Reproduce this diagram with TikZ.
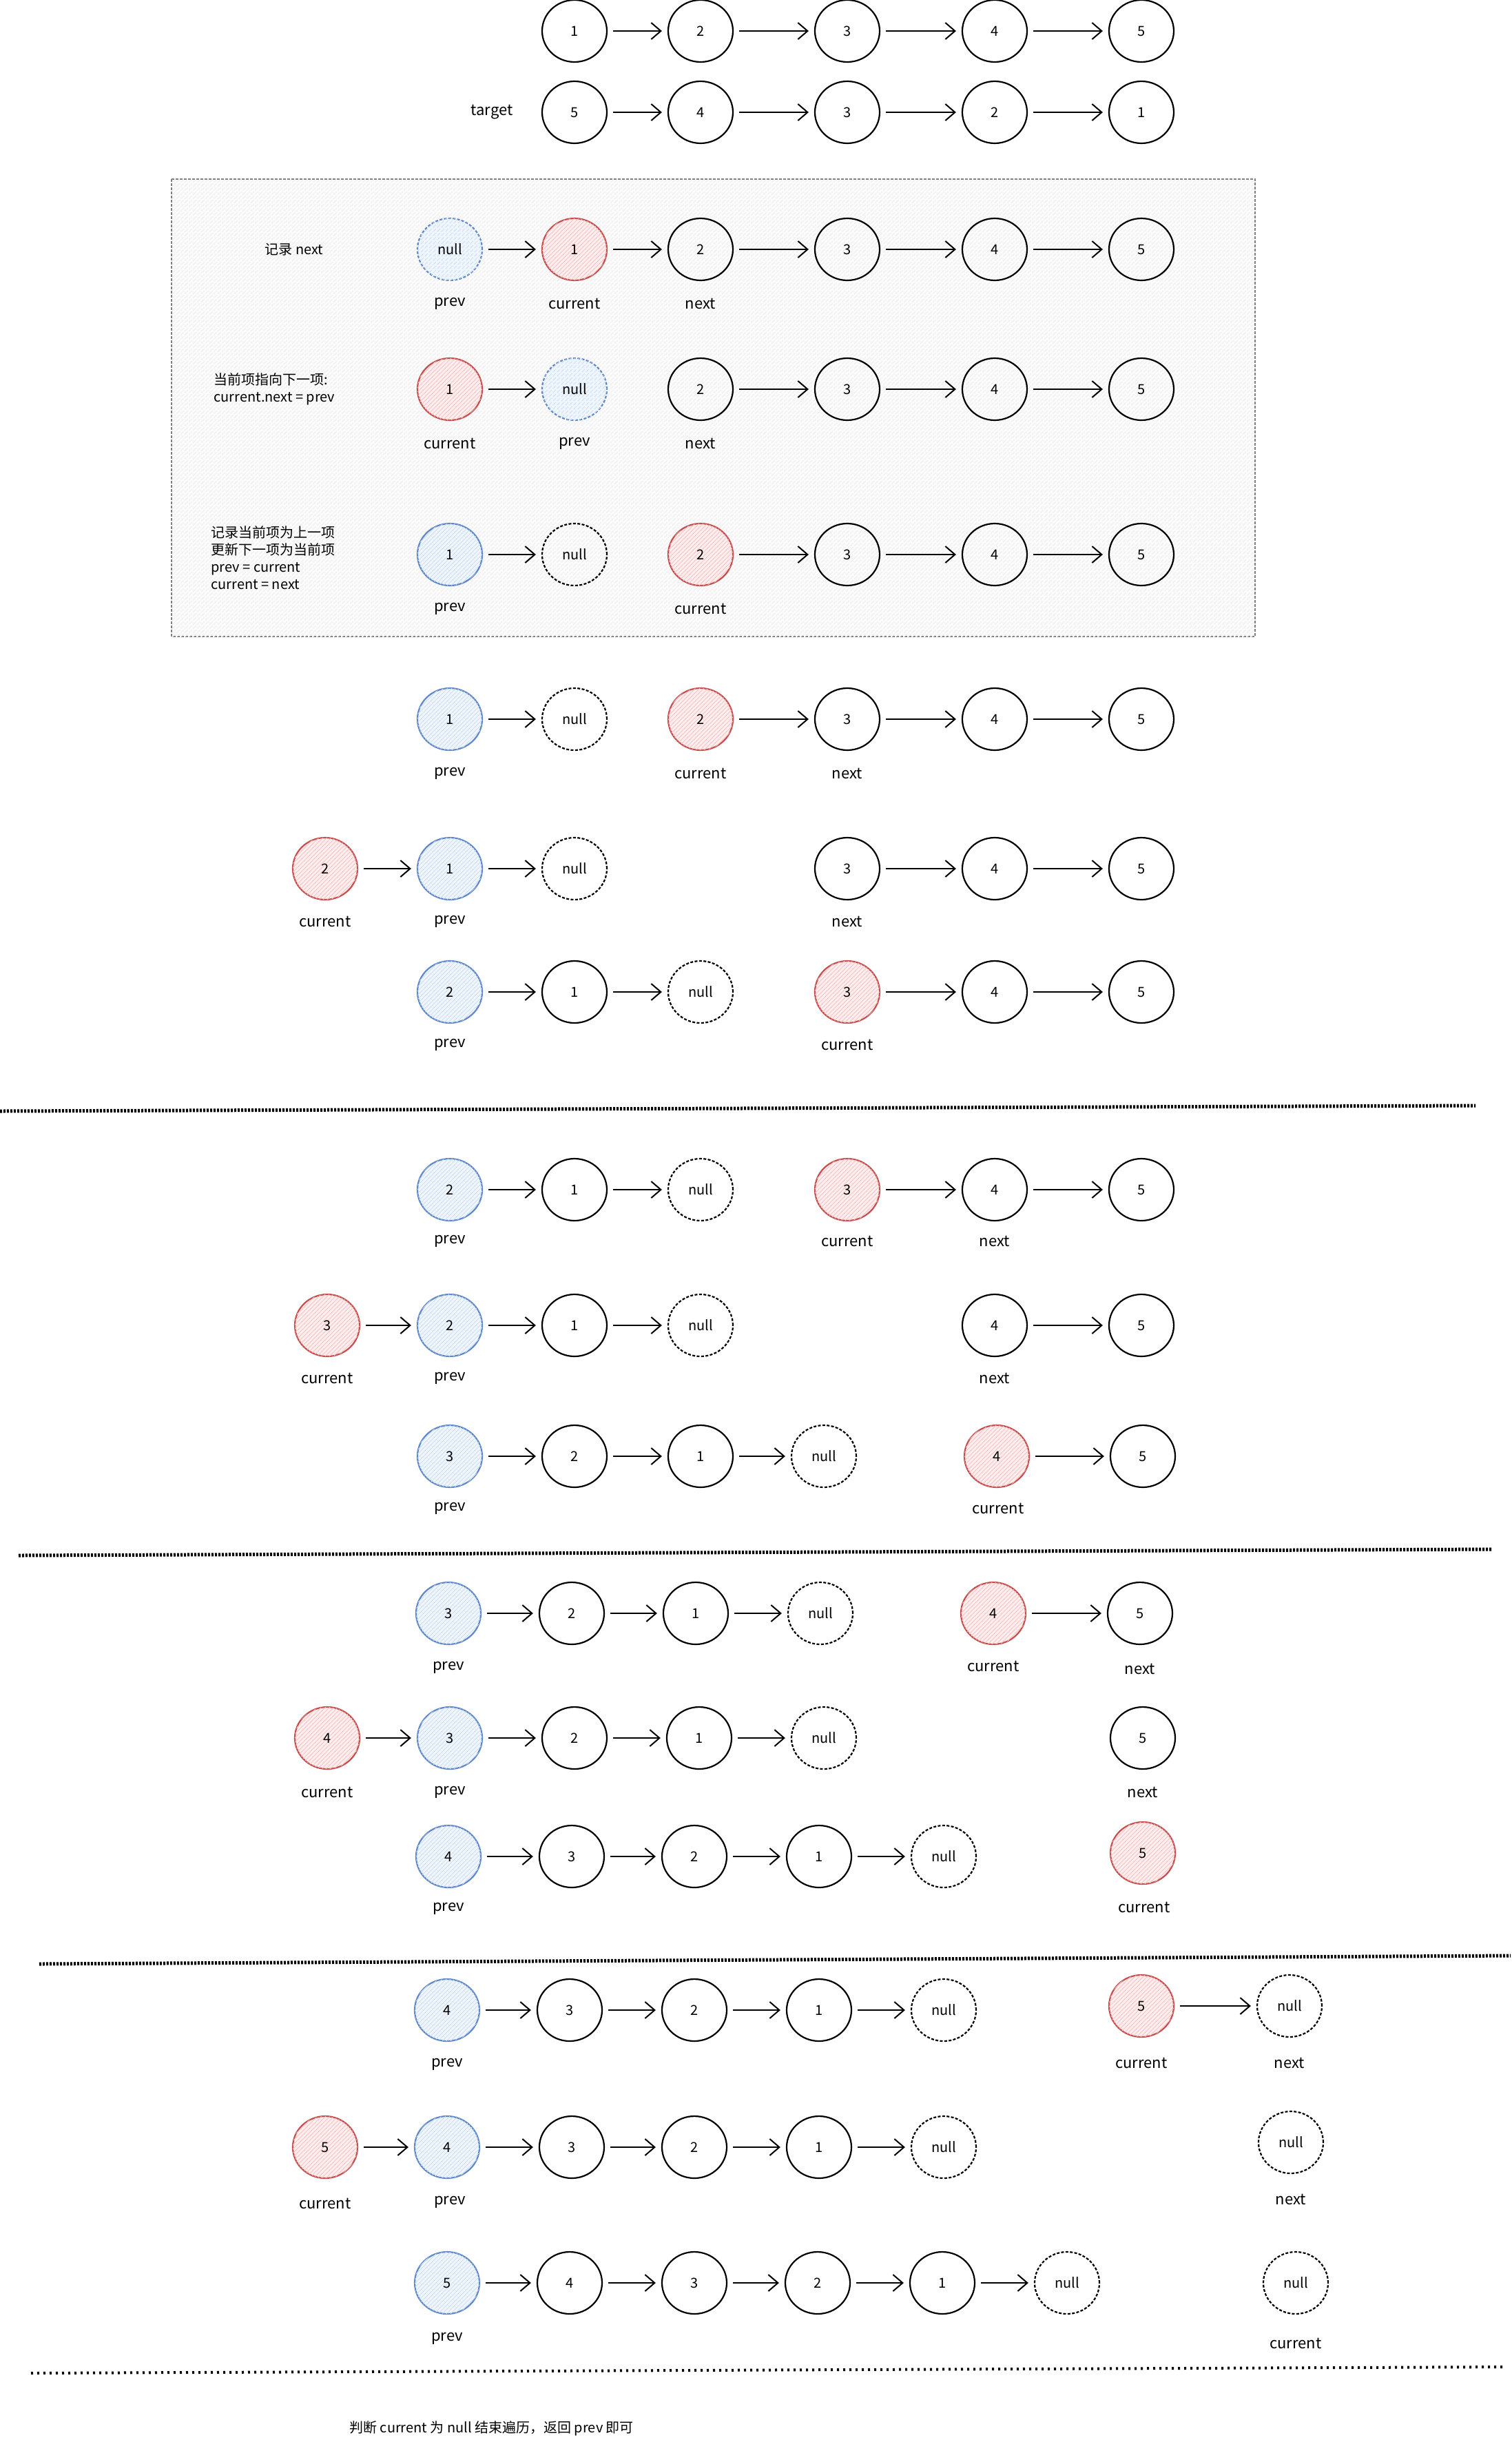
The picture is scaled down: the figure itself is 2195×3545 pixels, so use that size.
\documentclass[tikz,border=0pt]{standalone}
\usepackage{fontspec}
\usetikzlibrary{shapes.geometric,arrows.meta,patterns}
\newfontfamily\cjk{Noto Sans CJK SC}
\definecolor{redS}{RGB}{201,78,78}
\definecolor{redF}{RGB}{254,238,238}
\definecolor{redH}{RGB}{246,196,196}
\definecolor{blueS}{RGB}{96,136,204}
\definecolor{blueF}{RGB}{240,246,254}
\definecolor{blueH}{RGB}{206,222,246}
\definecolor{boxF}{RGB}{251,251,251}
\definecolor{boxH}{RGB}{238,238,238}
\tikzset{
  nd/.style={ellipse, draw=black, line width=1.1pt, minimum width=47pt, minimum height=45pt, inner sep=0pt, font=\cjk\fontsize{10}{12}\selectfont},
  rd/.style={nd, draw=redS, fill=redF, postaction={pattern=north east lines, pattern color=redH}},
  bl/.style={nd, draw=blueS, fill=blueF, postaction={pattern=north east lines, pattern color=blueH}},
  bld/.style={bl, dash pattern=on 2pt off 1.2pt},
  nl/.style={nd, dash pattern=on 2pt off 1.2pt},
  lb/.style={font=\cjk\fontsize{11}{13}\selectfont, inner sep=0pt},
  note/.style={font=\cjk\fontsize{10}{12.5}\selectfont, inner sep=0pt, align=left, anchor=west},
  arr/.style={-{Straight Barb[length=7pt,width=12pt]}, line width=1pt, shorten <=4pt, shorten >=4pt},
  sepline/.style={line width=2.5pt, dash pattern=on 1.5pt off 1pt},
  dotline/.style={line width=2pt, dash pattern=on 1.5pt off 3pt},
  boxframe/.style={draw=gray, line width=0.6pt, dash pattern=on 2pt off 1pt, fill=boxF, postaction={pattern=north east lines, pattern color=boxH}}
}
\begin{document}
\begin{tikzpicture}[x=0.5pt,y=-0.5pt]
\useasboundingbox (0,0) rectangle (2195,3545);

% ---------- Row 1 ----------
\node[nd] (p1) at (834,45) {1};
\node[nd] (p2) at (1017,45) {2};
\node[nd] (p3) at (1230,45) {3};
\node[nd] (p4) at (1444,45) {4};
\node[nd] (p5) at (1657,45) {5};
\draw[arr] (p1)--(p2); \draw[arr] (p2)--(p3); \draw[arr] (p3)--(p4); \draw[arr] (p4)--(p5);

% ---------- Row 2 (target) ----------
\node[lb] (tg) at (714,163) {target};
\node[nd] (q1) at (834,163) {5};
\node[nd] (q2) at (1017,163) {4};
\node[nd] (q3) at (1230,163) {3};
\node[nd] (q4) at (1444,163) {2};
\node[nd] (q5) at (1657,163) {1};
\draw[arr] (q1)--(q2); \draw[arr] (q2)--(q3); \draw[arr] (q3)--(q4); \draw[arr] (q4)--(q5);

% ---------- Box ----------
\path[boxframe] (249,260) rectangle (1822,924);

% Row A
\node[note, anchor=center] (ta) at (427,362) {记录 next};
\node[bld] (a0) at (653,362) {null};
\node[rd] (a1) at (834,362) {1};
\node[nd] (a2) at (1017,362) {2};
\node[nd] (a3) at (1230,362) {3};
\node[nd] (a4) at (1444,362) {4};
\node[nd] (a5) at (1657,362) {5};
\draw[arr] (a0)--(a1); \draw[arr] (a1)--(a2); \draw[arr] (a2)--(a3); \draw[arr] (a3)--(a4); \draw[arr] (a4)--(a5);
\node[lb] (la0) at (653,441) {prev};
\node[lb] (la1) at (834,441) {current};
\node[lb] (la2) at (1017,441) {next};

% Row B
\node[note] (tb) at (310,565) {当前项指向下一项:\\current.next = prev};
\node[rd] (b0) at (653,565) {1};
\node[bld] (b1) at (834,565) {null};
\node[nd] (b2) at (1017,565) {2};
\node[nd] (b3) at (1230,565) {3};
\node[nd] (b4) at (1444,565) {4};
\node[nd] (b5) at (1657,565) {5};
\draw[arr] (b0)--(b1); \draw[arr] (b2)--(b3); \draw[arr] (b3)--(b4); \draw[arr] (b4)--(b5);
\node[lb] (lb0) at (653,644) {current};
\node[lb] (lb1) at (834,644) {prev};
\node[lb] (lb2) at (1017,644) {next};

% Row C
\node[note] (tc) at (306,810) {记录当前项为上一项\\更新下一项为当前项\\prev = current\\current = next};
\node[bl] (c0) at (653,805) {1};
\node[nl] (c1) at (834,805) {null};
\node[rd] (c2) at (1017,805) {2};
\node[nd] (c3) at (1230,805) {3};
\node[nd] (c4) at (1444,805) {4};
\node[nd] (c5) at (1657,805) {5};
\draw[arr] (c0)--(c1); \draw[arr] (c2)--(c3); \draw[arr] (c3)--(c4); \draw[arr] (c4)--(c5);
\node[lb] (lc0) at (653,884) {prev};
\node[lb] (lc2) at (1017,884) {current};

% ---------- Row D ----------
\node[bl] (d0) at (653,1044) {1};
\node[nl] (d1) at (834,1044) {null};
\node[rd] (d2) at (1017,1044) {2};
\node[nd] (d3) at (1230,1044) {3};
\node[nd] (d4) at (1444,1044) {4};
\node[nd] (d5) at (1657,1044) {5};
\draw[arr] (d0)--(d1); \draw[arr] (d2)--(d3); \draw[arr] (d3)--(d4); \draw[arr] (d4)--(d5);
\node[lb] (ld0) at (653,1123) {prev};
\node[lb] (ld2) at (1017,1123) {current};
\node[lb] (ld3) at (1230,1123) {next};

% ---------- Row E ----------
\node[rd] (e0) at (472,1261) {2};
\node[bl] (e1) at (653,1261) {1};
\node[nl] (e2) at (834,1261) {null};
\node[nd] (e3) at (1230,1261) {3};
\node[nd] (e4) at (1444,1261) {4};
\node[nd] (e5) at (1657,1261) {5};
\draw[arr] (e0)--(e1); \draw[arr] (e1)--(e2); \draw[arr] (e3)--(e4); \draw[arr] (e4)--(e5);
\node[lb] (le0) at (472,1338) {current};
\node[lb] (le1) at (653,1338) {prev};
\node[lb] (le3) at (1230,1338) {next};

% ---------- Row F ----------
\node[bl] (f1) at (653,1440) {2};
\node[nd] (f2) at (834,1440) {1};
\node[nl] (f3) at (1017,1440) {null};
\node[rd] (f4) at (1230,1440) {3};
\node[nd] (f5) at (1444,1440) {4};
\node[nd] (f6) at (1657,1440) {5};
\draw[arr] (f1)--(f2); \draw[arr] (f2)--(f3); \draw[arr] (f4)--(f5); \draw[arr] (f5)--(f6);
\node[lb] (lf1) at (653,1517) {prev};
\node[lb] (lf4) at (1230,1517) {current};

% separator 1
\draw[sepline] (0,1613) -- (2142,1605);

% ---------- Row G ----------
\node[bl] (g1) at (653,1727) {2};
\node[nd] (g2) at (834,1727) {1};
\node[nl] (g3) at (1017,1727) {null};
\node[rd] (g4) at (1230,1727) {3};
\node[nd] (g5) at (1444,1727) {4};
\node[nd] (g6) at (1657,1727) {5};
\draw[arr] (g1)--(g2); \draw[arr] (g2)--(g3); \draw[arr] (g4)--(g5); \draw[arr] (g5)--(g6);
\node[lb] (lg1) at (653,1802) {prev};
\node[lb] (lg4) at (1230,1802) {current};
\node[lb] (lg5) at (1444,1802) {next};

% ---------- Row H ----------
\node[rd] (h0) at (475,1924) {3};
\node[bl] (h1) at (653,1924) {2};
\node[nd] (h2) at (834,1924) {1};
\node[nl] (h3) at (1017,1924) {null};
\node[nd] (h5) at (1444,1924) {4};
\node[nd] (h6) at (1657,1924) {5};
\draw[arr] (h0)--(h1); \draw[arr] (h1)--(h2); \draw[arr] (h2)--(h3); \draw[arr] (h5)--(h6);
\node[lb] (lh0) at (475,2001) {current};
\node[lb] (lh1) at (653,2001) {prev};
\node[lb] (lh5) at (1444,2001) {next};

% ---------- Row I ----------
\node[bl] (i1) at (653,2114) {3};
\node[nd] (i2) at (834,2114) {2};
\node[nd] (i3) at (1017,2114) {1};
\node[nl] (i4) at (1196,2114) {null};
\node[rd] (i5) at (1447,2114) {4};
\node[nd] (i6) at (1659,2114) {5};
\draw[arr] (i1)--(i2); \draw[arr] (i2)--(i3); \draw[arr] (i3)--(i4); \draw[arr] (i5)--(i6);
\node[lb] (li1) at (653,2190) {prev};
\node[lb] (li5) at (1449,2190) {current};

% separator 2
\draw[sepline] (27,2258) -- (2166,2249);

% ---------- Row J ----------
\node[bl] (j1) at (651,2342) {3};
\node[nd] (j2) at (830,2342) {2};
\node[nd] (j3) at (1010,2342) {1};
\node[nl] (j4) at (1191,2342) {null};
\node[rd] (j5) at (1442,2342) {4};
\node[nd] (j6) at (1655,2342) {5};
\draw[arr] (j1)--(j2); \draw[arr] (j2)--(j3); \draw[arr] (j3)--(j4); \draw[arr] (j5)--(j6);
\node[lb] (lj1) at (651,2421) {prev};
\node[lb] (lj5) at (1442,2419) {current};
\node[lb] (lj6) at (1655,2423) {next};

% ---------- Row K ----------
\node[rd] (k0) at (475,2523) {4};
\node[bl] (k1) at (653,2523) {3};
\node[nd] (k2) at (834,2523) {2};
\node[nd] (k3) at (1015,2523) {1};
\node[nl] (k4) at (1196,2523) {null};
\node[nd] (k6) at (1659,2523) {5};
\draw[arr] (k0)--(k1); \draw[arr] (k1)--(k2); \draw[arr] (k2)--(k3); \draw[arr] (k3)--(k4);
\node[lb] (lk0) at (475,2602) {current};
\node[lb] (lk1) at (653,2602) {prev};
\node[lb] (lk6) at (1659,2602) {next};

% ---------- Row L ----------
\node[bl] (l1) at (651,2695) {4};
\node[nd] (l2) at (830,2695) {3};
\node[nd] (l3) at (1008,2695) {2};
\node[nd] (l4) at (1189,2695) {1};
\node[nl] (l5) at (1370,2695) {null};
\node[rd] (l6) at (1659,2690) {5};
\draw[arr] (l1)--(l2); \draw[arr] (l2)--(l3); \draw[arr] (l3)--(l4); \draw[arr] (l4)--(l5);
\node[lb] (ll1) at (651,2771) {prev};
\node[lb] (ll6) at (1661,2769) {current};

% separator 3
\draw[sepline] (57,2851) -- (2193,2839);

% ---------- Row M ----------
\node[bl] (m1) at (649,2918) {4};
\node[nd] (m2) at (827,2918) {3};
\node[nd] (m3) at (1008,2918) {2};
\node[nd] (m4) at (1189,2918) {1};
\node[nl] (m5) at (1370,2918) {null};
\node[rd] (m6) at (1657,2912) {5};
\node[nl] (m7) at (1872,2912) {null};
\draw[arr] (m1)--(m2); \draw[arr] (m2)--(m3); \draw[arr] (m3)--(m4); \draw[arr] (m4)--(m5); \draw[arr] (m6)--(m7);
\node[lb] (lm1) at (649,2997) {prev};
\node[lb] (lm6) at (1657,2995) {current};
\node[lb] (lm7) at (1872,2995) {next};

% ---------- Row N ----------
\node[rd] (n0) at (472,3117) {5};
\node[bl] (n1) at (649,3117) {4};
\node[nd] (n2) at (830,3117) {3};
\node[nd] (n3) at (1008,3117) {2};
\node[nd] (n4) at (1189,3117) {1};
\node[nl] (n5) at (1370,3117) {null};
\node[nl] (n7) at (1874,3110) {null};
\draw[arr] (n0)--(n1); \draw[arr] (n1)--(n2); \draw[arr] (n2)--(n3); \draw[arr] (n3)--(n4); \draw[arr] (n4)--(n5);
\node[lb] (ln0) at (472,3199) {current};
\node[lb] (ln1) at (653,3197) {prev};
\node[lb] (ln7) at (1874,3193) {next};

% ---------- Row O ----------
\node[bl] (o1) at (649,3314) {5};
\node[nd] (o2) at (827,3314) {4};
\node[nd] (o3) at (1008,3314) {3};
\node[nd] (o4) at (1187,3314) {2};
\node[nd] (o5) at (1368,3314) {1};
\node[nl] (o6) at (1549,3314) {null};
\node[nl] (o7) at (1881,3314) {null};
\draw[arr] (o1)--(o2); \draw[arr] (o2)--(o3); \draw[arr] (o3)--(o4); \draw[arr] (o4)--(o5); \draw[arr] (o5)--(o6);
\node[lb] (lo1) at (649,3395) {prev};
\node[lb] (lo7) at (1881,3402) {current};

% separator 4
\draw[dotline] (45,3445) -- (2186,3436);

% bottom text
\node[note] (tend) at (507,3525) {判断 current 为 null 结束遍历，返回 prev 即可};

\end{tikzpicture}
\end{document}
